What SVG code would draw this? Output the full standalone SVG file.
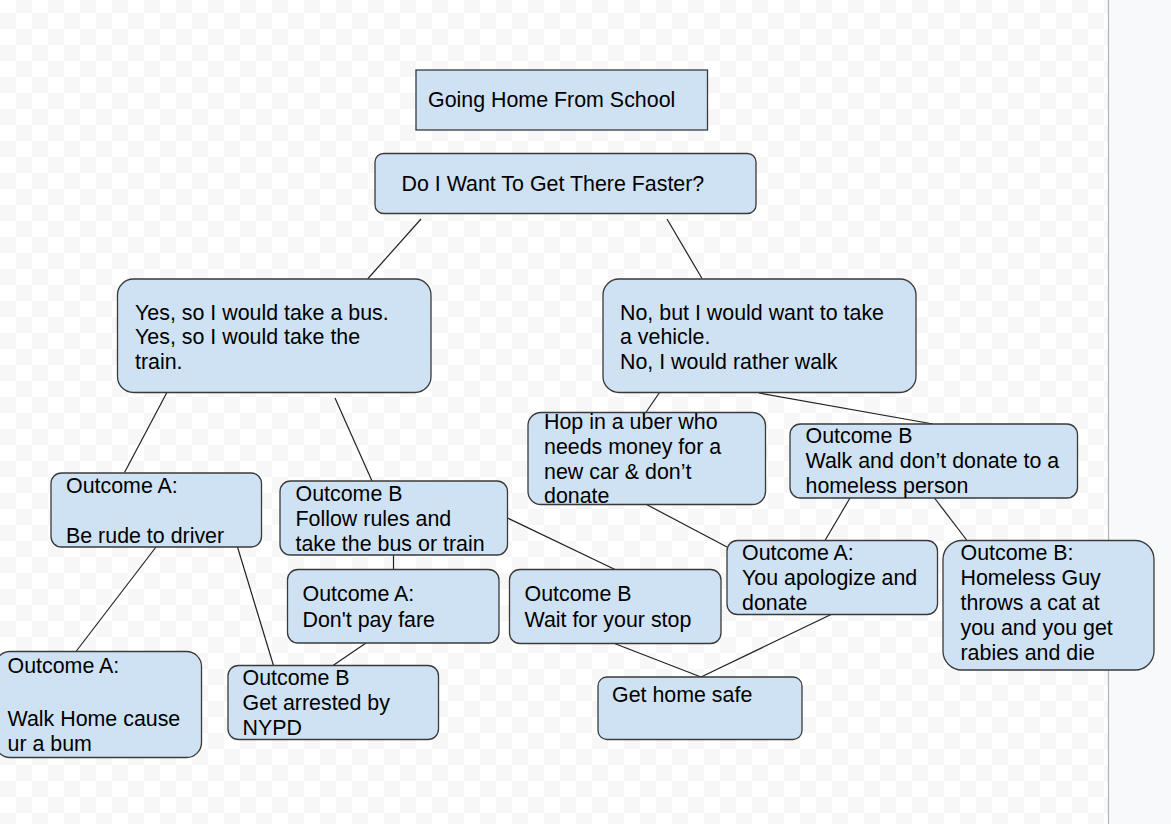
<svg xmlns="http://www.w3.org/2000/svg" width="1171" height="824" viewBox="0 0 1171 824">
<defs>
<pattern id="checker" x="0" y="13" width="32" height="32" patternUnits="userSpaceOnUse">
<rect width="32" height="32" fill="#ffffff"/>
<rect x="0" y="0" width="16" height="16" fill="#f7f7f7"/>
<rect x="16" y="16" width="16" height="16" fill="#f7f7f7"/>
</pattern>
<style>
.box{fill:#cfe2f3;stroke:#3a3a3a;stroke-width:1.3}
.t{font-family:"Liberation Sans",Arial,sans-serif;font-size:21.4px;fill:#000}
.c{stroke:#222;stroke-width:1.2;fill:none}
</style>
</defs>
<rect x="0" y="0" width="1108" height="824" fill="url(#checker)"/>
<rect x="1108" y="0" width="63" height="824" fill="#f8f9fa"/>
<line x1="1108.5" y1="0" x2="1108.5" y2="824" stroke="#b4b4b4" stroke-width="1.2"/>

<g id="connectors">
<line class="c" x1="421" y1="219" x2="368" y2="278.5"/>
<line class="c" x1="667" y1="219" x2="702" y2="278.5"/>
<line class="c" x1="173" y1="381" x2="124.5" y2="472.5"/>
<line class="c" x1="335" y1="398" x2="372" y2="481"/>
<line class="c" x1="393.5" y1="555" x2="393.5" y2="569.5"/>
<line class="c" x1="507.5" y1="518" x2="615" y2="569.5"/>
<line class="c" x1="156" y1="547" x2="76" y2="651.5"/>
<line class="c" x1="237.5" y1="547" x2="273.5" y2="665.5"/>
<line class="c" x1="366" y1="643" x2="333" y2="665.5"/>
<line class="c" x1="659.5" y1="392.5" x2="645.5" y2="413"/>
<line class="c" x1="759" y1="393" x2="933" y2="424"/>
<line class="c" x1="646.5" y1="504.5" x2="727" y2="547"/>
<line class="c" x1="850" y1="498" x2="825" y2="540.5"/>
<line class="c" x1="934.5" y1="498" x2="967" y2="540.5"/>
<line class="c" x1="614.5" y1="643.5" x2="701" y2="677"/>
<line class="c" x1="831" y1="614.5" x2="701" y2="677"/>
</g>

<g id="n-title">
<rect class="box" x="416" y="70" width="291.5" height="60"/>
<text class="t" x="428" y="107">Going Home From School</text>
</g>

<g id="n-question">
<rect class="box" x="375" y="153.5" width="381" height="60" rx="8.5"/>
<text class="t" x="401.5" y="190.5">Do I Want To Get There Faster?</text>
</g>

<g id="n-yes">
<rect class="box" x="117.5" y="279" width="313.5" height="113.5" rx="16"/>
<text class="t" x="135" y="319.5">Yes, so I would take a bus.</text>
<text class="t" x="135" y="344">Yes, so I would take the</text>
<text class="t" x="135" y="369">train.</text>
</g>

<g id="n-no">
<rect class="box" x="603" y="279" width="313" height="113.5" rx="16"/>
<text class="t" x="620" y="319.5">No, but I would want to take</text>
<text class="t" x="620" y="344">a vehicle.</text>
<text class="t" x="620" y="369">No, I would rather walk</text>
</g>

<g id="n-rude">
<rect class="box" x="51" y="473" width="210.5" height="74" rx="10.5"/>
<text class="t" x="66" y="493">Outcome A:</text>
<text class="t" x="66" y="543">Be rude to driver</text>
</g>

<g id="n-follow">
<rect class="box" x="280" y="481" width="227.5" height="74" rx="10.5"/>
<text class="t" x="295.5" y="501">Outcome B</text>
<text class="t" x="295.5" y="526">Follow rules and</text>
<text class="t" x="295.5" y="551">take the bus or train</text>
</g>

<g id="n-uber">
<rect class="box" x="528" y="412.5" width="237.5" height="92" rx="13"/>
<text class="t" x="544" y="429">Hop in a uber who</text>
<text class="t" x="544" y="453.5">needs money for a</text>
<text class="t" x="544" y="478.5">new car &amp; don’t</text>
<text class="t" x="544" y="503">donate</text>
</g>

<g id="n-walk-nodonate">
<rect class="box" x="790" y="424" width="287.5" height="74" rx="10.5"/>
<text class="t" x="805.5" y="443">Outcome B</text>
<text class="t" x="805.5" y="468">Walk and don’t donate to a</text>
<text class="t" x="805.5" y="493">homeless person</text>
</g>

<g id="n-walkhome">
<rect class="box" x="-5" y="651.5" width="206.5" height="106" rx="15"/>
<text class="t" x="7.5" y="673">Outcome A:</text>
<text class="t" x="7.5" y="725.5">Walk Home cause</text>
<text class="t" x="7.5" y="750.5">ur a bum</text>
</g>

<g id="n-fare">
<rect class="box" x="287.5" y="569.5" width="211.5" height="73.5" rx="10.5"/>
<text class="t" x="302.5" y="601">Outcome A:</text>
<text class="t" x="302.5" y="626.5">Don't pay fare</text>
</g>

<g id="n-arrested">
<rect class="box" x="228" y="665.5" width="210.5" height="74" rx="10.5"/>
<text class="t" x="242.5" y="684.5">Outcome B</text>
<text class="t" x="242.5" y="710">Get arrested by</text>
<text class="t" x="242.5" y="735">NYPD</text>
</g>

<g id="n-wait">
<rect class="box" x="509.5" y="569.5" width="211.5" height="74" rx="10.5"/>
<text class="t" x="524.5" y="601">Outcome B</text>
<text class="t" x="524.5" y="626.5">Wait for your stop</text>
</g>

<g id="n-apologize">
<rect class="box" x="727" y="540.5" width="210.5" height="74" rx="10.5"/>
<text class="t" x="742" y="559.5">Outcome A:</text>
<text class="t" x="742" y="584.5">You apologize and</text>
<text class="t" x="742" y="609.5">donate</text>
</g>

<g id="n-homeless">
<rect class="box" x="943" y="540.5" width="211" height="129.5" rx="19"/>
<text class="t" x="960.5" y="559.5">Outcome B:</text>
<text class="t" x="960.5" y="584.5">Homeless Guy</text>
<text class="t" x="960.5" y="609.5">throws a cat at</text>
<text class="t" x="960.5" y="634.5">you and you get</text>
<text class="t" x="960.5" y="659.5">rabies and die</text>
</g>

<g id="n-safe">
<rect class="box" x="598" y="677" width="204" height="62.5" rx="9"/>
<text class="t" x="612" y="702">Get home safe</text>
</g>
</svg>
